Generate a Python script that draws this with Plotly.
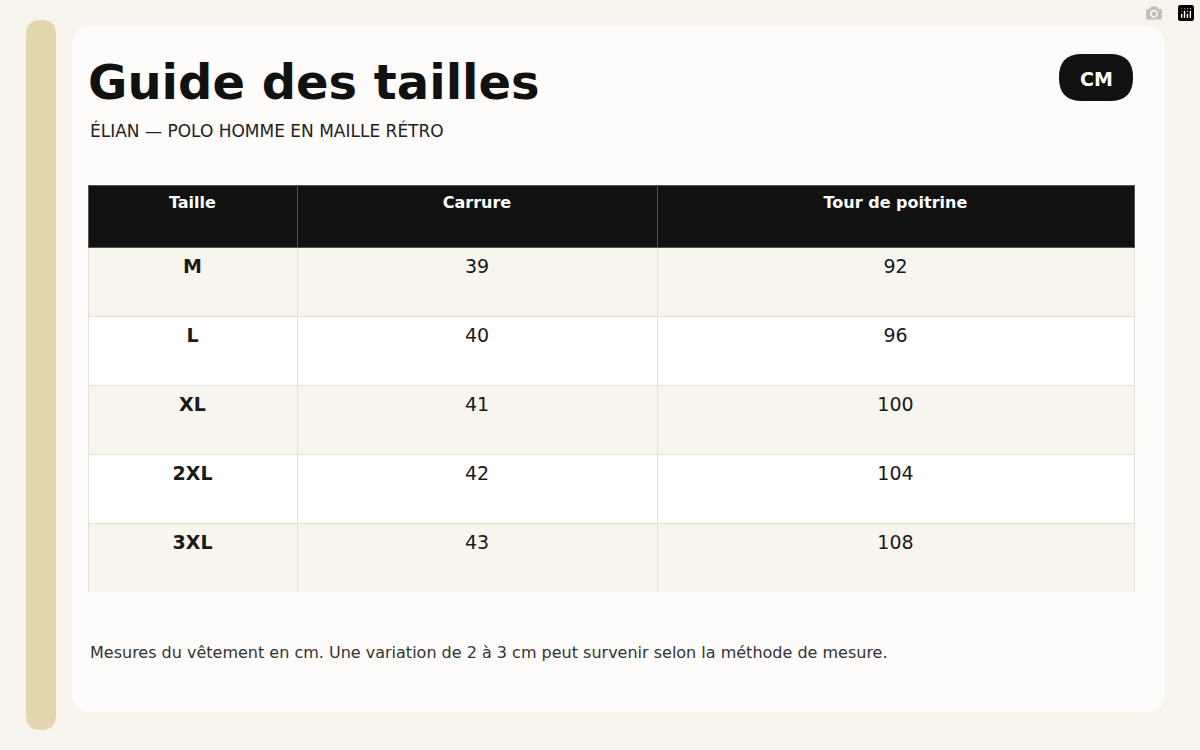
import plotly.graph_objects as go

W, H = 1200, 750

sizes = ["M", "L", "XL", "2XL", "3XL"]
carrure = [39, 40, 41, 42, 43]
poitrine = [92, 96, 100, 104, 108]
headers = ["Taille", "Carrure", "Tour de poitrine"]

FONT = "DejaVu Sans"


def px(x):
    return x / W


def py(y):
    return 1 - y / H


def rounded(x0, y0, x1, y1, r):
    # rounded rectangle path in paper coords, from pixel inputs
    pts = [
        f"M {px(x0 + r)},{py(y0)}",
        f"L {px(x1 - r)},{py(y0)}",
        f"Q {px(x1)},{py(y0)} {px(x1)},{py(y0 + r)}",
        f"L {px(x1)},{py(y1 - r)}",
        f"Q {px(x1)},{py(y1)} {px(x1 - r)},{py(y1)}",
        f"L {px(x0 + r)},{py(y1)}",
        f"Q {px(x0)},{py(y1)} {px(x0)},{py(y1 - r)}",
        f"L {px(x0)},{py(y0 + r)}",
        f"Q {px(x0)},{py(y0)} {px(x0 + r)},{py(y0)} Z",
    ]
    return " ".join(pts)


row_fill = ["#f7f5ee" if i % 2 == 0 else "#ffffff" for i in range(len(sizes))]

# leading <br> pushes text down toward the vertical middle of each cell
fig = go.Figure(go.Table(
    domain=dict(x=[px(88), px(1134)], y=[py(593), py(185)]),
    columnwidth=[209, 360, 477],
    header=dict(
        values=[f"<br><b>{h}</b>" for h in headers],
        fill_color="#111111",
        line_color="#555555",
        font=dict(family=FONT, size=16, color="white"),
        align="center",
        height=62,
    ),
    cells=dict(
        values=[[f"<br><b>{s}</b>" for s in sizes],
                [f"<br>{v}" for v in carrure],
                [f"<br>{v}" for v in poitrine]],
        fill_color=[row_fill] * 3,
        line_color="#e3e1da",
        font=dict(family=FONT, size=19, color="#1a1a1a"),
        align="center",
        height=69,
    ),
))

shapes = [
    dict(type="path", path=rounded(26, 20, 56, 730, 15), xref="paper", yref="paper",
         fillcolor="#e3d5ae", line=dict(width=0), layer="below"),
    dict(type="path", path=rounded(72, 26, 1165, 712, 20), xref="paper", yref="paper",
         fillcolor="#fdfcfa", line=dict(width=0), layer="below"),
    dict(type="path", path=rounded(1059, 54, 1133, 101, 23), xref="paper", yref="paper",
         fillcolor="#111111", line=dict(width=0)),
]

annotations = [
    dict(text="<b>Guide des tailles</b>", x=px(86), y=py(82), xanchor="left", yanchor="middle",
         font=dict(family=FONT, size=48, color="#111111")),
    dict(text="ÉLIAN — POLO HOMME EN MAILLE RÉTRO", x=px(88), y=py(130), xanchor="left",
         yanchor="middle", font=dict(family=FONT, size=17, color="#222222")),
    dict(text="<b>CM</b>", x=px(1096), y=py(79), xanchor="center", yanchor="middle",
         font=dict(family=FONT, size=19, color="white")),
    dict(text="Mesures du vêtement en cm. Une variation de 2 à 3 cm peut survenir selon la méthode de mesure.",
         x=px(88), y=py(652), xanchor="left", yanchor="middle",
         font=dict(family=FONT, size=16, color="#333333")),
]
for a in annotations:
    a.update(xref="paper", yref="paper", showarrow=False)

fig.update_layout(
    width=W, height=H,
    margin=dict(l=0, r=0, t=0, b=0),
    paper_bgcolor="#f7f4ee",
    plot_bgcolor="#f7f4ee",
    shapes=shapes,
    annotations=annotations,
)

fig.write_html("out.html", post_script="document.body.style.margin='0';")
